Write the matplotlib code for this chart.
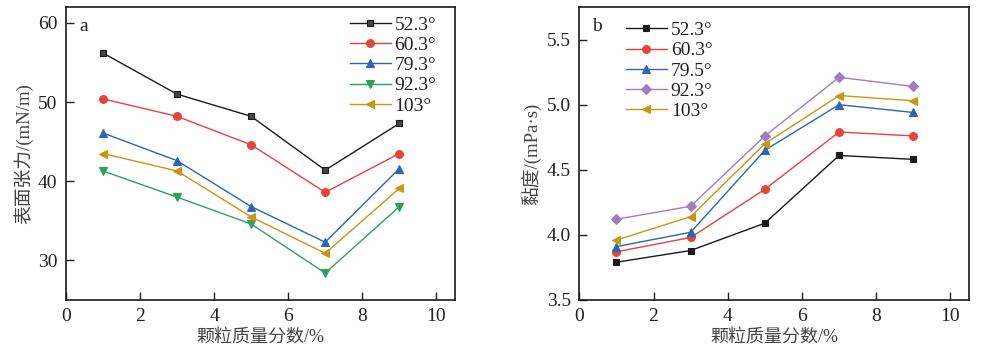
import matplotlib
matplotlib.use("Agg")
import matplotlib.pyplot as plt

x = [1, 3, 5, 7, 9]

# panel a: surface tension (mN/m)
labels_a = ["52.3°", "60.3°", "79.3°", "92.3°", "103°"]
st_523 = [56.2, 51.0, 48.2, 41.4, 47.3]
st_603 = [50.4, 48.2, 44.6, 38.6, 43.5]
st_793 = [46.1, 42.6, 36.8, 32.3, 41.6]
st_923 = [41.3, 38.0, 34.6, 28.4, 36.8]
st_103 = [43.5, 41.3, 35.5, 30.9, 39.1]

# panel b: viscosity (mPa·s)
labels_b = ["52.3°", "60.3°", "79.5°", "92.3°", "103°"]
vi_523 = [3.79, 3.88, 4.09, 4.61, 4.58]
vi_603 = [3.87, 3.98, 4.35, 4.79, 4.76]
vi_795 = [3.91, 4.02, 4.65, 5.00, 4.94]
vi_923 = [4.12, 4.22, 4.76, 5.21, 5.14]
vi_103 = [3.96, 4.14, 4.70, 5.07, 5.03]

serif = ["Liberation Serif", "DejaVu Serif"]
cjk = ["Liberation Serif", "Noto Sans CJK SC", "DejaVu Sans"]
plt.rcParams['font.family'] = serif

fig = plt.figure(figsize=(10.04, 3.63), dpi=100)
W, H = 1004, 363
axa = fig.add_axes([65.7 / W, (H - 300) / H, 389.3 / W, 293 / H])
axb = fig.add_axes([579.3 / W, (H - 300) / H, 389.7 / W, 293 / H])

black = "#1a1a1a"
red = "#e8413c"
blue = "#2a66b6"
green = "#2ca25f"
gold = "#c9960f"
purple = "#a07cc0"

ms = 5.6
lw = 1.0

series_a = [
    (st_523, black, "s", "#454545"),
    (st_603, red, "o", red),
    (st_793, blue, "^", blue),
    (st_923, green, "v", green),
    (st_103, gold, "<", gold),
]
for (vals, c, m, fc), lab in zip(series_a, labels_a):
    axa.plot(x, vals, color=c, lw=lw, marker=m,
             ms=(ms - 0.6 if m == "s" else ms), mfc=fc,
             mec=(black if m == "s" else c), mew=0.8, label=lab)

series_b = [
    (vi_523, black, "s", black),
    (vi_603, red, "o", red),
    (vi_795, blue, "^", blue),
    (vi_923, purple, "D", purple),
    (vi_103, gold, "<", gold),
]
for (vals, c, m, fc), lab in zip(series_b, labels_b):
    axb.plot(x, vals, color=c, lw=lw, marker=m,
             ms=(ms - 0.8 if m in ("D", "s") else ms), mfc=fc, mec=c,
             mew=0.8, label=lab)

axa.set_xlim(0, 10.5)
axa.set_ylim(25, 62)
axa.set_yticks([30, 40, 50, 60])
axb.set_xlim(0, 10.5)
axb.set_ylim(3.5, 5.75)
axb.set_yticks([3.5, 4.0, 4.5, 5.0, 5.5])
axb.set_yticklabels(["3.5", "4.0", "4.5", "5.0", "5.5"])

for ax in (axa, axb):
    ax.set_xticks([0, 2, 4, 6, 8, 10])
    ax.tick_params(direction="in", length=6, width=1.0, labelsize=14,
                   colors="#222222", pad=6)
    for s in ax.spines.values():
        s.set_linewidth(1.2)
        s.set_color("#1a1a1a")
    ax.set_xlabel("颗粒质量分数/%", fontsize=13, family=cjk, color="#444444",
                  labelpad=3)

axa.set_ylabel("表面张力/(mN/m)", fontsize=13.5, family=cjk, color="#444444",
               labelpad=3)
axb.set_ylabel("黏度/(mPa·s)", fontsize=13.5, family=cjk, color="#444444",
               labelpad=3)

axa.text(0.045, 0.935, "a", transform=axa.transAxes, fontsize=14,
         ha="center", va="center", color="#222222")
axb.text(0.045, 0.935, "b", transform=axb.transAxes, fontsize=14,
         ha="center", va="center", color="#222222")

leg_kw = dict(frameon=False, fontsize=14, handlelength=2.1, handletextpad=0.2,
              labelspacing=0.13, borderpad=0, borderaxespad=0, loc="upper left")
la = axa.legend(bbox_to_anchor=(0.73, 0.968), **leg_kw)
lb = axb.legend(bbox_to_anchor=(0.12, 0.95), **leg_kw)
for leg in (la, lb):
    for t in leg.get_texts():
        t.set_color("#222222")

fig.savefig("out.png", dpi=100)
